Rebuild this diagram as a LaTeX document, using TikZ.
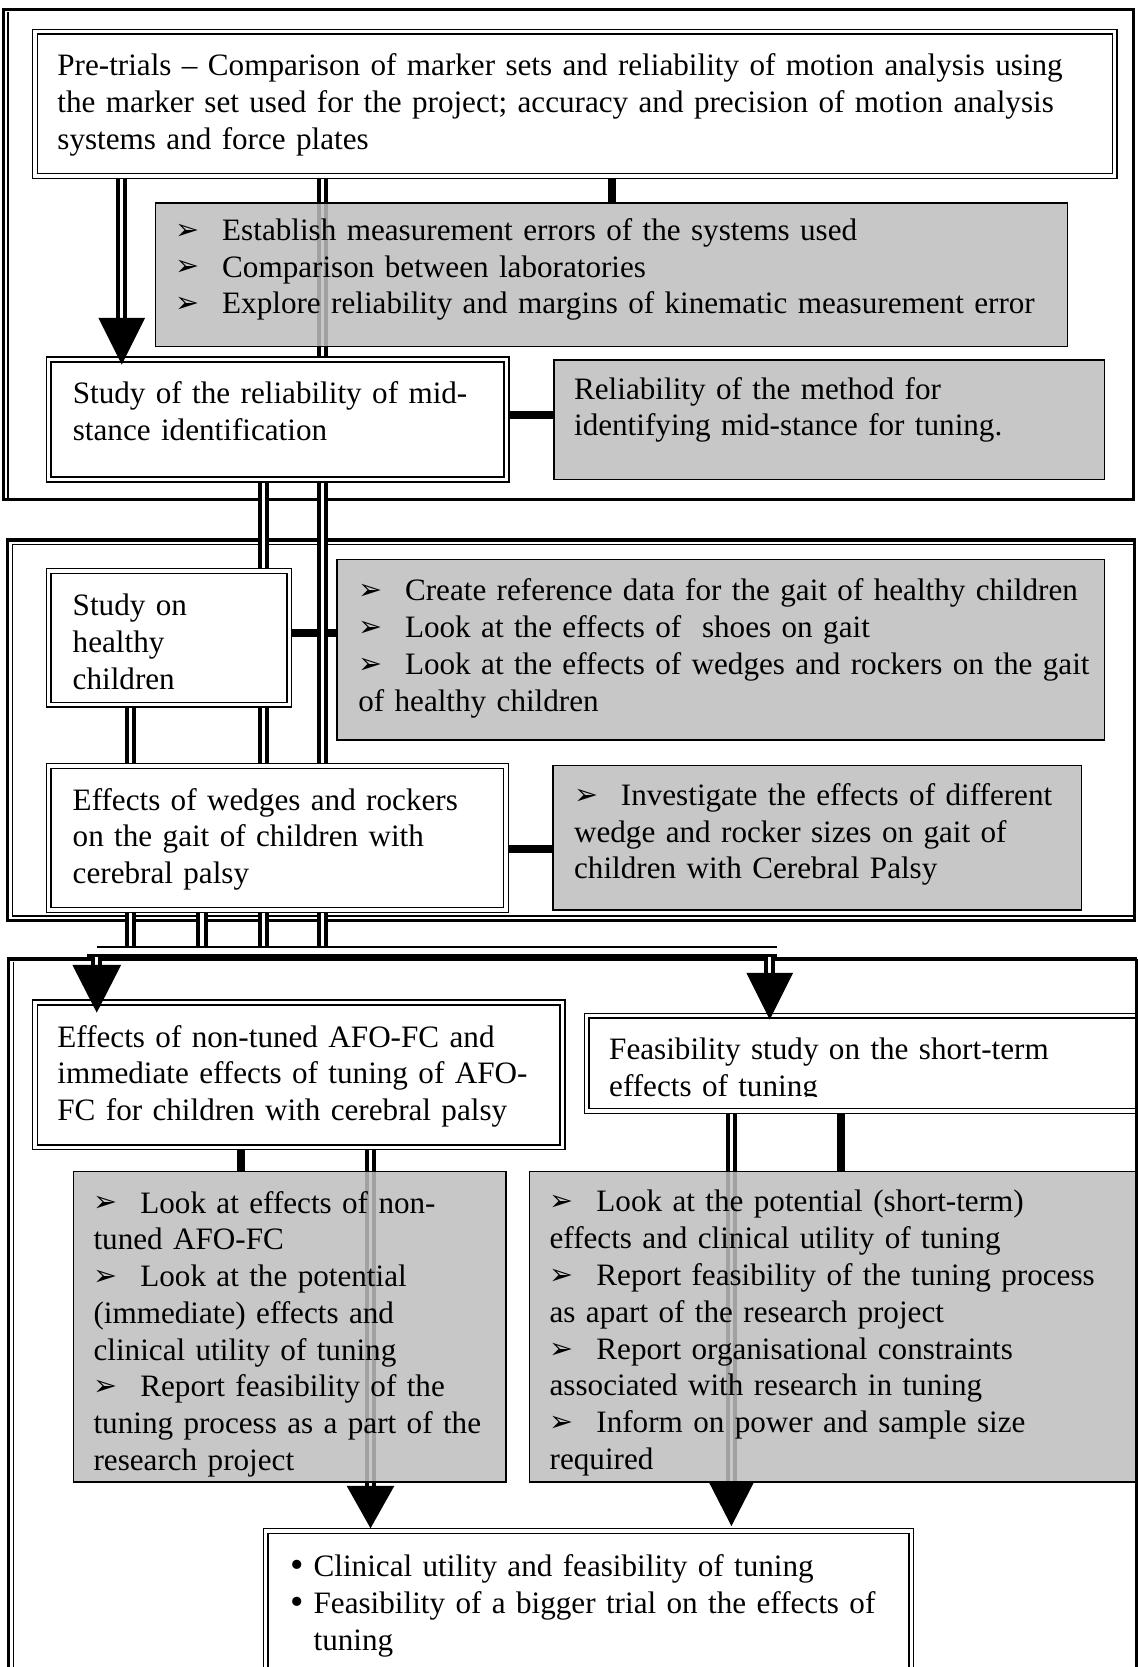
\documentclass[tikz,border=0pt]{standalone}
\usepackage{fontspec}
\setmainfont{Liberation Serif}
\newfontfamily\arrowfont{DejaVu Sans}
\usetikzlibrary{calc}
\pgfdeclarelayer{bg}
\pgfdeclarelayer{conn}
\pgfdeclarelayer{front}
\pgfsetlayers{bg,conn,main,front}
\definecolor{gboxc}{RGB}{190,190,190}
\newcommand{\bl}{\makebox[44pt][l]{\raisebox{1pt}{\arrowfont\fontsize{27}{27}\selectfont ➢}}}
\newcommand{\dotb}{\makebox[22pt][l]{\raisebox{-1pt}{\fontsize{36}{36}\selectfont •}}}
\begin{document}
\begin{tikzpicture}[x=1pt,y=-1pt,
  every node/.style={inner sep=0pt,outer sep=0pt},
  wbox/.style={draw,line width=1.5pt,double,double distance=3pt,fill=white,anchor=north west},
  gbox/.style={draw,line width=1.3pt,fill=gboxc,fill opacity=0.85,anchor=north west},
  txt/.style={anchor=base west,align=left,text width=#1,font=\fontsize{29.3}{34.6}\selectfont},
  conndbl/.style={double,line width=3.8pt,double distance=3pt},
  connthick/.style={line width=7.5pt},
  framethick/.style={line width=3pt},
  framethin/.style={line width=1.2pt}]
\useasboundingbox (0,0) rectangle (1070,1568);
\begin{pgfonlayer}{bg}
  \fill[white] (0,0) rectangle (1070,1568);
  % section frames
  \draw[framethick] (3,9) rectangle (1066,470);
  \draw[framethin] (7.5,11) -- (7.5,468);
  \draw[framethick] (7,508) rectangle (1067,866);
  \draw[framethin] (1066,512) -- (12,512) -- (12,861.5) -- (1066,861.5);
  \draw[framethick] (8,1580) -- (8,902) -- (1069,902);
  \draw[framethin] (12.5,905) -- (12.5,1580);
\end{pgfonlayer}

% ---------- section 1 ----------
\node[wbox,minimum width=1015.5pt,minimum height=135.5pt] (pre) at (33,30) {};
\node[txt=990pt] (tpre) at (54,71) {Pre-trials – Comparison of marker sets and reliability of motion analysis using\\the marker set used for the project; accuracy and precision of motion analysis\\systems and force plates};

\node[gbox,minimum width=858pt,minimum height=135pt] (g1) at (146,191) {};
\node[txt=850pt] (tg1) at (165,226) {\bl Establish measurement errors of the systems used\\\bl Comparison between laboratories\\\bl Explore reliability and margins of kinematic measurement error};

\node[wbox,minimum width=430.5pt,minimum height=113pt] (study) at (46,338) {};
\node[txt=405pt] (tstudy) at (68.5,380) {Study of the reliability of mid-\\stance identification};

\node[gbox,minimum width=518pt,minimum height=112.5pt] (g2) at (521,338.5) {};
\node[txt=490pt] (tg2) at (540,375.5) {Reliability of the method for\\identifying mid-stance for tuning.};

% ---------- section 2 ----------
\node[wbox,minimum width=226pt,minimum height=126pt] (healthy) at (46,537) {};
\node[txt=200pt] (thealthy) at (68.4,579) {Study on\\healthy\\children};

\node[gbox,minimum width=722pt,minimum height=169.5pt] (g3) at (317,526.5) {};
\node[txt=740pt] (tg3) at (337,565) {\bl Create reference data for the gait of healthy children\\\bl Look at the effects of\ \ shoes on gait\\\bl Look at the effects of wedges and rockers on the gait\\of healthy children};

\node[wbox,minimum width=430pt,minimum height=135.5pt] (effects) at (46,720.5) {};
\node[txt=405pt] (teffects) at (68.4,762) {Effects of wedges and rockers\\on the gait of children with\\cerebral palsy};

\node[gbox,minimum width=497pt,minimum height=136pt] (g4) at (520,720) {};
\node[txt=520pt] (tg4) at (540,757.5) {\bl Investigate the effects of different\\wedge and rocker sizes on gait of\\children with Cerebral Palsy};

% ---------- section 3 ----------
\node[wbox,minimum width=496pt,minimum height=136pt] (effnt) at (33,943) {};
\node[txt=500pt] (teffnt) at (54,985) {Effects of non-tuned AFO-FC and\\immediate effects of tuning of AFO-\\FC for children with cerebral palsy};

\node[wbox,minimum width=533pt,minimum height=89.5pt] (feas) at (552,955.5) {};
\begin{scope}
  \clip (552,956) rectangle (1070,1031);
  \node[txt=490pt] (tfeas) at (573,997) {Feasibility study on the short-term\\effects of tuning};
\end{scope}

\node[gbox,minimum width=407pt,minimum height=292pt] (g5) at (69,1102) {};
\node[txt=420pt] (tg5) at (88,1141) {\bl Look at effects of non-\\tuned AFO-FC\\\bl Look at the potential\\(immediate) effects and\\clinical utility of tuning\\\bl Report feasibility of the\\tuning process as a part of the\\research project};

\node[gbox,minimum width=582pt,minimum height=292pt] (g6) at (498,1102) {};
\node[txt=600pt] (tg6) at (517,1140) {\bl Look at the potential (short-term)\\effects and clinical utility of tuning\\\bl Report feasibility of the tuning process\\as apart of the research project\\\bl Report organisational constraints\\associated with research in tuning\\\bl Inform on power and sample size\\required};

\node[wbox,minimum width=607pt,minimum height=160pt] (final) at (250,1440) {};
\node[txt=620pt] (tfinal) at (273,1483) {\dotb Clinical utility and feasibility of tuning\\\dotb Feasibility of a bigger trial on the effects of\\\hspace*{22pt}tuning};

% ---------- connectors ----------
\coordinate (xL0) at (114.5,0);
\coordinate (xL1) at (303,0);
\coordinate (xL2) at (248,0);
\coordinate (xL3) at (123,0);
\coordinate (xL4) at (190,0);
\coordinate (xA2) at (91,0);
\coordinate (xA3) at (724,0);
\coordinate (xA4) at (348.5,0);
\coordinate (xA5) at (688,0);
\coordinate (xT1) at (576,0);
\coordinate (xT5) at (227,0);
\coordinate (xT6) at (791,0);
\coordinate (yT2) at (0,390);
\coordinate (yT3) at (0,595);
\coordinate (yT4) at (0,799);
\coordinate (barTL) at (91,891);
\coordinate (barTR) at (731,891);
\coordinate (barKL) at (82,900.5);
\coordinate (barKR) at (731,900.5);

\begin{pgfonlayer}{conn}
  \draw[connthick] (pre.south -| xT1) -- (g1.north -| xT1);
  \draw[connthick] (study.east |- yT2) -- (g2.west |- yT2);
  \draw[connthick] (healthy.east |- yT3) -- (g3.west |- yT3);
  \draw[connthick] (effects.east |- yT4) -- (g4.west |- yT4);
  \draw[connthick] (effnt.south -| xT5) -- (g5.north -| xT5);
  \draw[connthick] (feas.south -| xT6) -- (g6.north -| xT6);

  \draw[conndbl] (pre.south -| xL0) -- ($(study.north -| xL0)+(0,-36)$);
  \draw[conndbl] (pre.south -| xL1) -- (xL1 |- barTL);
  \draw[conndbl] (study.south -| xL2) -- (xL2 |- barTL);
  \draw[conndbl] (healthy.south -| xL3) -- (xL3 |- barTL);
  \draw[conndbl] (effects.south -| xL4) -- (xL4 |- barTL);

  \draw[line width=1.8pt] (barTL) -- (barTR);
  \draw[line width=7pt] (barKL) -- (barKR);
  \draw[conndbl] (xA2 |- barKL) -- ($(effnt.north -| xA2)+(0,-33)$);
  \draw[conndbl] (xA3 |- barKR) -- ($(feas.north -| xA3)+(0,-38)$);

  \draw[conndbl] (effnt.south -| xA4) -- ($(final.north -| xA4)+(0,-40)$);
  \draw[conndbl] (feas.south -| xA5) -- ($(final.north -| xA5)+(0,-42)$);
\end{pgfonlayer}

\begin{pgfonlayer}{front}
  \fill ($(study.north -| xL0)+(0,5)$) -- ++(-22,-44) -- ++(44,0) -- cycle;
  \fill ($(effnt.north -| xA2)+(0,9.5)$) -- ++(-23,-45) -- ++(46,0) -- cycle;
  \fill ($(feas.north -| xA3)+(0,3.5)$) -- ++(-22,-44) -- ++(44,0) -- cycle;
  \fill ($(final.north -| xA4)+(0,-2.5)$) -- ++(-22.5,-40) -- ++(45,0) -- cycle;
  \fill ($(final.north -| xA5)+(0,-4.5)$) -- ++(-21,-41) -- ++(42,0) -- cycle;
  \draw[framethick] (1069,902) -- (1069,1580);
\end{pgfonlayer}
\end{tikzpicture}
\end{document}
